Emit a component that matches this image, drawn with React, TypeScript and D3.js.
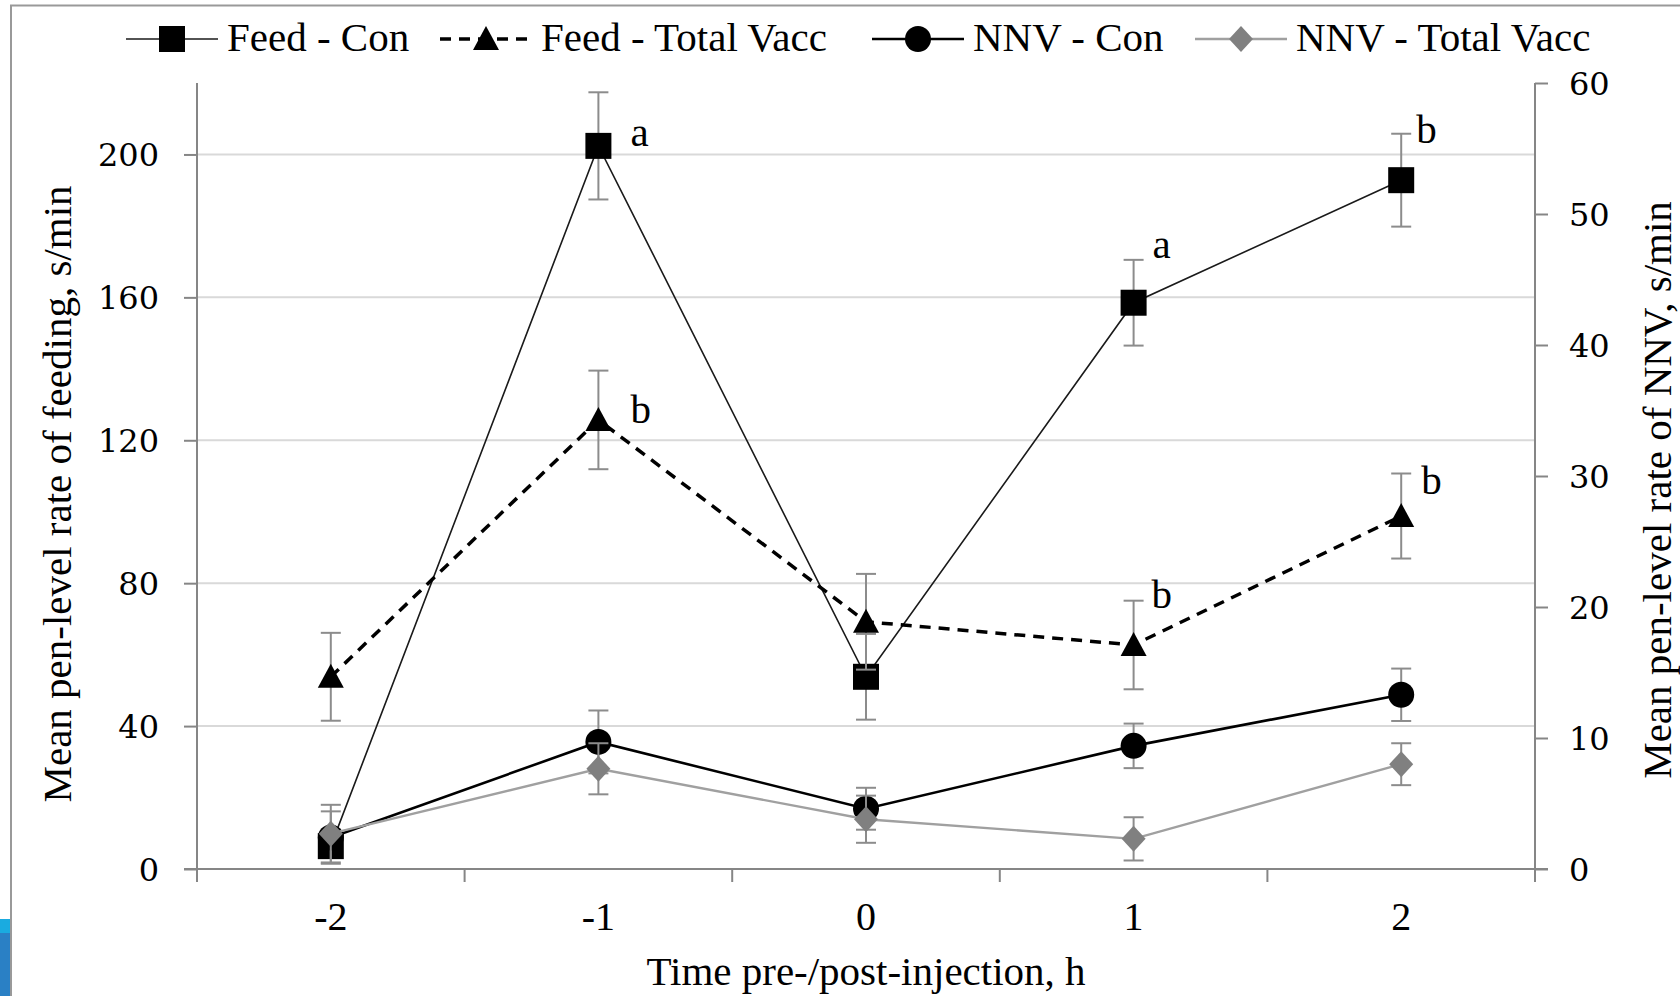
import { useEffect, useRef } from 'react';
import * as d3 from 'd3';

const W = 1680;
const H = 996;

// hours relative to injection
const categories = ['-2', '-1', '0', '1', '2'];

// feeding, s/min (left axis)
const feedCon = [6.4, 202.4, 53.8, 158.5, 192.8];
const feedConErr = [3.2, 15, 12, 12, 13];
const feedVacc = [53.8, 125.7, 69.2, 62.7, 98.8];
const feedVaccErr = [12.3, 13.8, 13.4, 12.4, 11.9];

// NNV, s/min (right axis)
const nnvCon = [2.4, 9.7, 4.6, 9.4, 13.3];
const nnvConErr = [2.0, 2.4, 1.6, 1.7, 2.0];
const nnvVacc = [2.7, 7.65, 3.8, 2.3, 8.0];
const nnvVaccErr = [2.2, 1.95, 1.8, 1.65, 1.6];

const feedConLetters = ['', 'a', '', 'a', 'b'];
const feedVaccLetters = ['', 'b', '', 'b', 'b'];

const leftTicks = [0, 40, 80, 120, 160, 200];
const rightTicks = [0, 10, 20, 30, 40, 50, 60];

const legendNames = ['Feed - Con', 'Feed - Total Vacc', 'NNV - Con', 'NNV - Total Vacc'];

// where each letter sits next to its marker (dx, dy from the point)
const feedConLetterPos = [null, [32, 0], null, [19, -45], [15, -37]];
const feedVaccLetterPos = [null, [32, 3], null, [18, -37], [20, -22]];

const SERIF = '"Liberation Serif", "Times New Roman", serif';
const TICK_FONT = '"DejaVu Serif", serif';
const AXIS_GRAY = '#868686';
const ERR_GRAY = '#8c8c8c';

const margin = { top: 83, right: 145, bottom: 127, left: 197 };

function marker(g, kind: string, x: number, y: number) {
  if (kind === 'square') {
    g.append('rect').attr('x', x - 13).attr('y', y - 13).attr('width', 26).attr('height', 26).attr('fill', '#000');
  } else if (kind === 'triangle') {
    g.append('path').attr('d', `M${x},${y - 13}L${x + 13},${y + 11}L${x - 13},${y + 11}Z`).attr('fill', '#000');
  } else if (kind === 'circle') {
    g.append('circle').attr('cx', x).attr('cy', y).attr('r', 13).attr('fill', '#000');
  } else {
    g.append('path').attr('d', `M${x},${y - 13}L${x + 12},${y}L${x},${y + 13}L${x - 12},${y}Z`).attr('fill', '#808080');
  }
}

export default function App() {
  const ref = useRef<SVGSVGElement>(null);

  useEffect(() => {
    const svg = d3.select(ref.current);
    svg.selectAll('*').remove();

    const x0 = margin.left;
    const x1 = W - margin.right;
    const yBottom = H - margin.bottom;

    const x = d3.scaleBand().domain(categories).range([x0, x1]).padding(0);
    const cx = (c: string) => (x(c) as number) + x.bandwidth() / 2;
    const yL = d3.scaleLinear().domain([0, 220]).range([yBottom, margin.top]);
    const yR = d3.scaleLinear().domain([0, 60]).range([yBottom, margin.top]);

    // frame bits around the figure
    svg.append('rect').attr('x', 0).attr('y', 919).attr('width', 10).attr('height', 14).attr('fill', '#1aabe0');
    svg.append('rect').attr('x', 0).attr('y', 933).attr('width', 10).attr('height', 63).attr('fill', '#2a80c5');
    svg.append('line').attr('x1', 11).attr('x2', 11).attr('y1', 5).attr('y2', H).attr('stroke', '#999').attr('stroke-width', 2);
    svg.append('line').attr('x1', 10).attr('x2', W).attr('y1', 5.5).attr('y2', 5.5).attr('stroke', '#999').attr('stroke-width', 2);

    // gridlines
    svg.append('g')
      .selectAll('line')
      .data(leftTicks.filter((t) => t > 0))
      .enter()
      .append('line')
      .attr('x1', x0).attr('x2', x1)
      .attr('y1', (d) => yL(d)).attr('y2', (d) => yL(d))
      .attr('stroke', '#d9d9d9').attr('stroke-width', 2);

    // left axis
    const left = svg.append('g')
      .attr('transform', `translate(${x0},0)`)
      .call(d3.axisLeft(yL).tickValues(leftTicks).tickSize(13).tickPadding(25));
    left.select('.domain').attr('d', `M0,${margin.top}V${yBottom + 13}`);
    left.selectAll('line, path').attr('stroke', AXIS_GRAY).attr('stroke-width', 2);
    left.selectAll('text').attr('font-family', TICK_FONT).attr('font-size', 32).attr('fill', '#000').attr('dy', '0.36em');

    // right axis
    const right = svg.append('g')
      .attr('transform', `translate(${x1},0)`)
      .call(d3.axisRight(yR).tickValues(rightTicks).tickSize(13).tickPadding(21));
    right.select('.domain').attr('d', `M0,${margin.top}V${yBottom + 13}`);
    right.selectAll('line, path').attr('stroke', AXIS_GRAY).attr('stroke-width', 2);
    right.selectAll('text').attr('font-family', TICK_FONT).attr('font-size', 32).attr('fill', '#000').attr('dy', '0.36em');

    // x axis: ticks sit on the category boundaries
    svg.append('line').attr('x1', x0 - 13).attr('x2', x1 + 13).attr('y1', yBottom).attr('y2', yBottom)
      .attr('stroke', AXIS_GRAY).attr('stroke-width', 2);
    const bounds = categories.map((c) => x(c) as number).concat([x1]);
    svg.append('g')
      .selectAll('line')
      .data(bounds)
      .enter()
      .append('line')
      .attr('x1', (d) => d).attr('x2', (d) => d)
      .attr('y1', yBottom).attr('y2', yBottom + 13)
      .attr('stroke', AXIS_GRAY).attr('stroke-width', 2);
    svg.append('g')
      .selectAll('text')
      .data(categories)
      .enter()
      .append('text')
      .attr('x', (d) => cx(d))
      .attr('y', 930)
      .attr('text-anchor', 'middle')
      .attr('font-family', SERIF)
      .attr('font-size', 40)
      .text((d) => d);

    // axis titles
    svg.append('text')
      .attr('x', (x0 + x1) / 2).attr('y', 985)
      .attr('text-anchor', 'middle').attr('font-family', SERIF).attr('font-size', 41)
      .text('Time pre-/post-injection, h');
    svg.append('text')
      .attr('transform', 'translate(71,494) rotate(-90)')
      .attr('text-anchor', 'middle').attr('font-family', SERIF).attr('font-size', 41)
      .text('Mean pen-level rate of feeding, s/min');
    svg.append('text')
      .attr('transform', 'translate(1671,490) rotate(-90)')
      .attr('text-anchor', 'middle').attr('font-family', SERIF).attr('font-size', 41)
      .text('Mean pen-level rate of NNV, s/min');

    const series = [
      { vals: feedCon, errs: feedConErr, y: yL, kind: 'square', stroke: '#1a1a1a', width: 1.6, dash: null },
      { vals: feedVacc, errs: feedVaccErr, y: yL, kind: 'triangle', stroke: '#000', width: 3.5, dash: '11,8' },
      { vals: nnvCon, errs: nnvConErr, y: yR, kind: 'circle', stroke: '#000', width: 2.6, dash: null },
      { vals: nnvVacc, errs: nnvVaccErr, y: yR, kind: 'diamond', stroke: '#a0a0a0', width: 2.4, dash: null },
    ];

    series.forEach((s) => {
      const g = svg.append('g');
      // error bars
      s.vals.forEach((v, i) => {
        const px = cx(categories[i]);
        const top = s.y(v + s.errs[i]);
        const bot = s.y(Math.max(0, v - s.errs[i]));
        g.append('line').attr('x1', px).attr('x2', px).attr('y1', top).attr('y2', bot).attr('stroke', ERR_GRAY).attr('stroke-width', 2);
        [top, bot].forEach((yy) => {
          g.append('line').attr('x1', px - 10).attr('x2', px + 10).attr('y1', yy).attr('y2', yy).attr('stroke', ERR_GRAY).attr('stroke-width', 2);
        });
      });
      const line = d3.line<number>()
        .x((_d, i) => cx(categories[i]))
        .y((d) => s.y(d));
      g.append('path')
        .datum(s.vals)
        .attr('fill', 'none')
        .attr('stroke', s.stroke)
        .attr('stroke-width', s.width)
        .attr('stroke-dasharray', s.dash)
        .attr('d', line);
      s.vals.forEach((v, i) => marker(g, s.kind, cx(categories[i]), s.y(v)));
    });

    // significance letters
    const letterGroup = svg.append('g').attr('font-family', SERIF).attr('font-size', 41);
    [[feedCon, feedConLetters, feedConLetterPos], [feedVacc, feedVaccLetters, feedVaccLetterPos]].forEach(([vals, letters, pos]) => {
      (letters as string[]).forEach((l, i) => {
        const p = (pos as (number[] | null)[])[i];
        if (!l || !p) return;
        letterGroup.append('text')
          .attr('x', cx(categories[i]) + p[0])
          .attr('y', yL((vals as number[])[i]) + p[1])
          .text(l);
      });
    });

    // legend
    const legendX = [126, 440, 872, 1195];
    const kinds = ['square', 'triangle', 'circle', 'diamond'];
    const lg = svg.append('g');
    legendNames.forEach((name, i) => {
      const s = series[i];
      const lx = legendX[i];
      const ly = 39;
      lg.append('line')
        .attr('x1', lx).attr('x2', lx + 92).attr('y1', ly).attr('y2', ly)
        .attr('stroke', s.stroke).attr('stroke-width', s.width)
        .attr('stroke-dasharray', s.dash);
      marker(lg, kinds[i], lx + 46, ly);
      lg.append('text')
        .attr('x', lx + 101).attr('y', ly + 12)
        .attr('font-family', SERIF).attr('font-size', 41)
        .text(name);
    });
  }, []);

  return (
    <svg
      ref={ref}
      width={W}
      height={H}
      style={{ position: 'absolute', left: 0, top: 0, background: '#fff', display: 'block' }}
    />
  );
}
